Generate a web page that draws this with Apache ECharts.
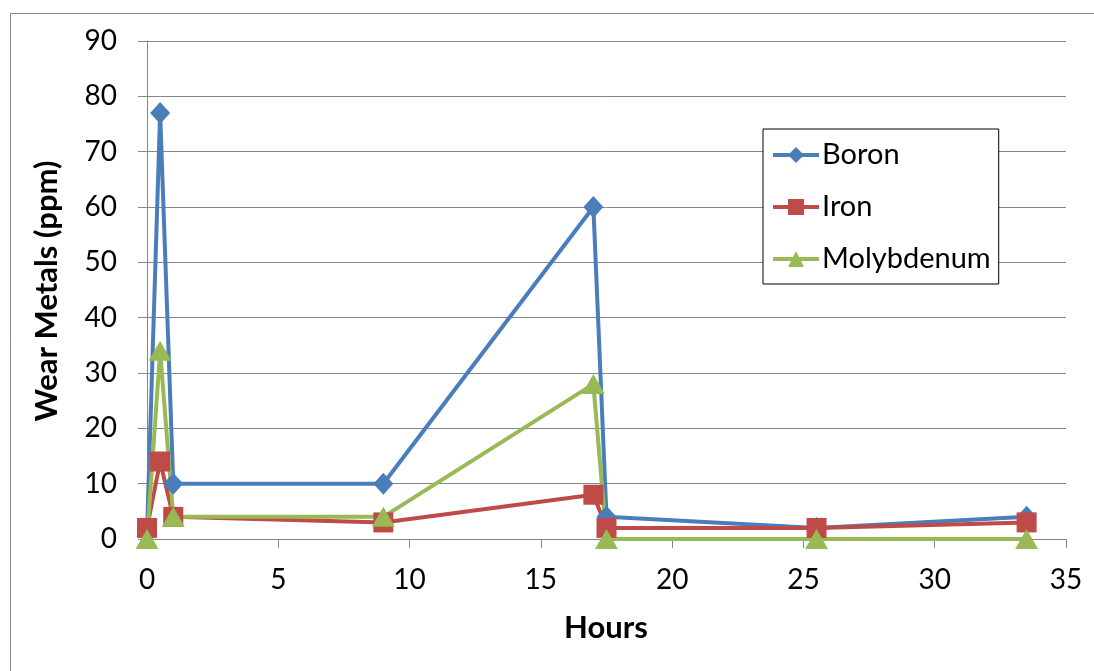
<!DOCTYPE html>
<html>
<head>
<meta charset="utf-8">
<script src="https://cdn.jsdelivr.net/npm/echarts@6/dist/echarts.min.js"></script>
<style>
html,body{margin:0;padding:0;background:#fff;}
#chart{width:1094px;height:671px;}
</style>
</head>
<body>
<div id="chart"></div>
<script>
const hours = [0, 0.5, 1, 9, 17, 17.5, 25.5, 33.5];
const boron = [1, 77, 10, 10, 60, 4, 2, 4];
const iron = [2, 14, 4, 3, 8, 2, 2, 3];
const molybdenum = [0, 34, 4, 4, 28, 0, 0, 0];
const xTicks = [0, 5, 10, 15, 20, 25, 30, 35];
const yTicks = [0, 10, 20, 30, 40, 50, 60, 70, 80, 90];

const pairs = arr => hours.map((h, i) => [h, arr[i]]);
const FONT = 'Lato, "Open Sans", sans-serif';
const GRAY = '#868686';

const chart = echarts.init(document.getElementById('chart'));
chart.setOption({
  animation: false,
  backgroundColor: '#fff',
  grid: { left: 147, right: 28, top: 41, bottom: 132 },
  xAxis: {
    type: 'value', min: xTicks[0], max: xTicks[xTicks.length - 1], interval: 5,
    axisLine: { show: true, lineStyle: { color: GRAY, width: 1 } },
    axisTick: { show: true, inside: false, length: 9, lineStyle: { color: GRAY } },
    splitLine: { show: false },
    axisLabel: { color: '#000', fontSize: 28, fontFamily: FONT, margin: 27 }
  },
  yAxis: {
    type: 'value', min: yTicks[0], max: yTicks[yTicks.length - 1], interval: 10,
    axisLine: { show: true, lineStyle: { color: GRAY, width: 1 } },
    axisTick: { show: true, inside: false, length: 9, lineStyle: { color: GRAY } },
    splitLine: { show: true, lineStyle: { color: GRAY, width: 1 } },
    axisLabel: { color: '#000', fontSize: 28, fontFamily: FONT, margin: 30 }
  },
  legend: {
    orient: 'vertical', left: 763, top: 129,
    backgroundColor: '#fff', borderColor: '#000', borderWidth: 1,
    padding: [11, 8, 10, 8],
    itemWidth: 46, itemHeight: 20, itemGap: 22,
    lineStyle: { width: 4 },
    textStyle: { color: '#000', fontSize: 29, fontFamily: FONT, lineHeight: 30, padding: [0, 0, 0, -2] },
    data: ['Boron', 'Iron', 'Molybdenum']
  },
  series: [
    { name: 'Boron', type: 'line', data: pairs(boron), symbol: 'diamond', symbolSize: [20, 22],
      lineStyle: { color: '#4A7EBB', width: 4 }, itemStyle: { color: '#4A7EBB' } },
    { name: 'Iron', type: 'line', data: pairs(iron), symbol: 'rect', symbolSize: 20,
      lineStyle: { color: '#BE4B48', width: 4 }, itemStyle: { color: '#BE4B48' } },
    { name: 'Molybdenum', type: 'line', data: pairs(molybdenum), symbol: 'triangle', symbolSize: [23, 20],
      lineStyle: { color: '#98B954', width: 4 }, itemStyle: { color: '#98B954' } }
  ],
  graphic: [
    { type: 'rect', left: 8, top: 11, silent: true, z: -10,
      shape: { width: 1084, height: 680 }, style: { fill: 'none', stroke: GRAY, lineWidth: 1 } },
    { type: 'text', x: 47, y: 291, rotation: Math.PI / 2,
      style: { text: 'Wear Metals (ppm)', font: 'bold 31px ' + FONT, fill: '#000', align: 'center', verticalAlign: 'middle' } },
    { type: 'text', x: 606, y: 628,
      style: { text: 'Hours', font: 'bold 31px ' + FONT, fill: '#000', align: 'center', verticalAlign: 'middle' } }
  ]
});
</script>
</body>
</html>
